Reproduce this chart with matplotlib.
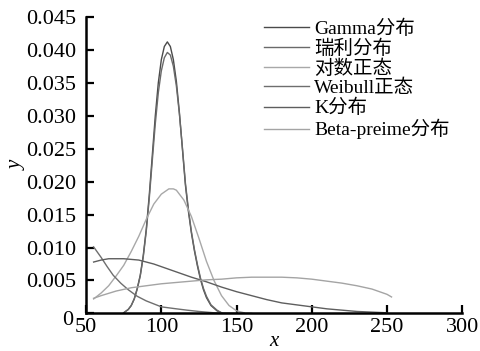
import matplotlib
matplotlib.use("Agg")
import matplotlib.pyplot as plt
import matplotlib.transforms as mtransforms

# 各分布曲线
x_gamma = [75, 78, 80, 82, 84, 86, 88, 90, 92, 94, 96, 98, 100, 102, 104, 106, 108, 110,
           112, 114, 116, 118, 120, 122, 124, 126, 128, 130, 133, 137, 140]
y_gamma = [0.0001, 0.0006, 0.0012, 0.0022, 0.0038, 0.0058, 0.0088, 0.0128, 0.0180, 0.0240,
           0.0300, 0.0350, 0.0385, 0.0405, 0.0412, 0.0405, 0.0385, 0.0352, 0.0305, 0.0250,
           0.0195, 0.0155, 0.0122, 0.0095, 0.0072, 0.0052, 0.0036, 0.0024, 0.0012, 0.0004, 0.0001]

x_rayleigh = x_gamma
y_rayleigh = [0.0001, 0.0006, 0.0012, 0.0022, 0.0037, 0.0057, 0.0086, 0.0125, 0.0175, 0.0232,
              0.0288, 0.0335, 0.0368, 0.0388, 0.0396, 0.0392, 0.0375, 0.0345, 0.0303, 0.0252,
              0.0198, 0.0158, 0.0124, 0.0097, 0.0074, 0.0054, 0.0038, 0.0026, 0.0013, 0.0005, 0.0001]

x_lognorm = [55, 60, 65, 70, 75, 80, 85, 90, 95, 100, 105, 108, 110, 115, 120, 125, 130,
             135, 140, 145, 150, 155]
y_lognorm = [0.0022, 0.0031, 0.0042, 0.0057, 0.0073, 0.0094, 0.0117, 0.0143, 0.0166, 0.0181,
             0.0189, 0.0189, 0.0187, 0.0172, 0.0147, 0.0114, 0.0079, 0.0050, 0.0027, 0.0012,
             0.0004, 0.0001]

x_weibull = [55, 60, 64, 68, 73, 78, 84, 90, 100, 110, 117, 125, 135, 145, 160]
y_weibull = [0.0101, 0.0085, 0.0071, 0.0058, 0.0046, 0.0036, 0.0026, 0.0019, 0.0010, 0.0007,
             0.0005, 0.0003, 0.0001, 0.00005, 0.0]

x_k = [55, 60, 65, 70, 75, 80, 85, 90, 95, 100, 110, 120, 130, 140, 150, 160, 170, 180,
       190, 200, 210, 220, 230, 240, 250]
y_k = [0.0078, 0.0081, 0.0083, 0.0083, 0.0083, 0.0082, 0.0081, 0.0078, 0.0075, 0.0071,
       0.0063, 0.0055, 0.0048, 0.0040, 0.0033, 0.0027, 0.0021, 0.0016, 0.0013, 0.0010,
       0.0007, 0.0005, 0.0003, 0.0002, 0.0001]

x_beta = [55, 60, 70, 80, 90, 100, 110, 120, 130, 140, 150, 160, 170, 180, 190, 200, 210,
          220, 230, 240, 250, 253]
y_beta = [0.0023, 0.0027, 0.0034, 0.0039, 0.0042, 0.0045, 0.0047, 0.0049, 0.0051, 0.0052,
          0.0054, 0.0055, 0.0055, 0.0055, 0.0054, 0.0052, 0.0049, 0.0046, 0.0042, 0.0037,
          0.0029, 0.0025]

labels = ['Gamma分布', '瑞利分布', '对数正态', 'Weibull正态', 'K分布', 'Beta-preime分布']
xticks = [50, 100, 150, 200, 250, 300]
yticks = [0, 0.005, 0.010, 0.015, 0.020, 0.025, 0.030, 0.035, 0.040, 0.045]
ylabels = ['0', '0.005', '0.010', '0.015', '0.020', '0.025', '0.030', '0.035', '0.040', '0.045']

plt.rcParams['font.family'] = ['Liberation Serif', 'Noto Sans CJK SC']

fig = plt.figure(figsize=(4.81, 3.51), dpi=100)
ax = fig.add_axes([0.179, 0.107, 0.782, 0.845])

ax.plot(x_gamma, y_gamma, color='#4a4a4a', lw=1.0, label=labels[0])
ax.plot(x_rayleigh, y_rayleigh, color='#6a6a6a', lw=1.0, label=labels[1])
ax.plot(x_lognorm, y_lognorm, color='#a8a8a8', lw=1.0, label=labels[2])
ax.plot(x_weibull, y_weibull, color='#6e6e6e', lw=1.0, label=labels[3])
ax.plot(x_k, y_k, color='#5e5e5e', lw=1.0, label=labels[4])
ax.plot(x_beta, y_beta, color='#a4a4a4', lw=1.0, label=labels[5])

ax.set_xlim(50, 300)
ax.set_ylim(0, 0.045)
ax.set_xticks(xticks)
ax.set_xticklabels([str(t) for t in xticks])
ax.set_yticks(yticks)
ax.set_yticklabels(ylabels)
ax.tick_params(direction='in', length=6, width=1.6, labelsize=16)
ax.tick_params(axis='y', pad=7)
ax.tick_params(axis='x', pad=3)
for s in ['top', 'right']:
    ax.spines[s].set_visible(False)
for s in ['left', 'bottom']:
    ax.spines[s].set_linewidth(1.8)

# "0" 稍微下移, 避免与 "50" 重叠
lab0 = ax.get_yticklabels()[0]
lab0.set_transform(lab0.get_transform() + mtransforms.ScaledTranslation(-0.03, -0.05, fig.dpi_scale_trans))

ax.set_xlabel('x', fontsize=15, style='italic', labelpad=-3)
ax.set_ylabel('y', fontsize=15, style='italic', labelpad=0)

leg = ax.legend(loc='upper left', bbox_to_anchor=(0.452, 1.018), frameon=False, fontsize=14,
                handlelength=2.3, handletextpad=0.3, labelspacing=0.09, borderaxespad=0)
for line in leg.get_lines():
    line.set_linewidth(1.0)

fig.savefig('out.png', dpi=100)
